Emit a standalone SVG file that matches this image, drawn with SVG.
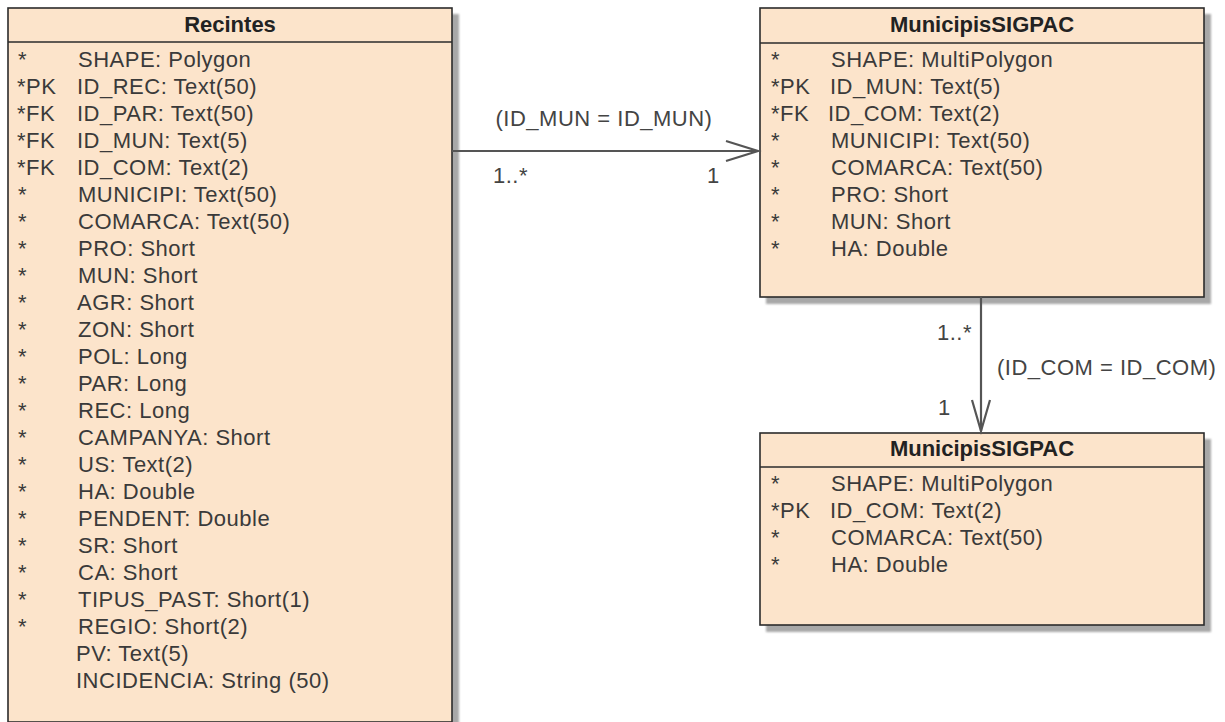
<svg xmlns="http://www.w3.org/2000/svg" width="1225" height="722" viewBox="0 0 1225 722">
<style>
.box{fill:#fce4cb;stroke:#2b2b2b;stroke-width:1.6}
.shadow{fill:#a8a8a8}
.sep{stroke:#2b2b2b;stroke-width:1.6}
.t{font-family:"Liberation Sans",Arial,sans-serif;font-size:22px;fill:#3a3a3a;letter-spacing:0.5px}
.h{font-family:"Liberation Sans",Arial,sans-serif;font-size:22px;font-weight:bold;fill:#222;text-anchor:middle}
.c{stroke:#555;stroke-width:2.2;fill:none}
.lbl{font-family:"Liberation Sans",Arial,sans-serif;font-size:22px;fill:#444;letter-spacing:0.5px}
</style>
<defs>
<filter id="blur" x="-5%" y="-5%" width="110%" height="110%"><feGaussianBlur stdDeviation="1.2"/></filter>
</defs>
<rect width="1225" height="722" fill="#ffffff"/>

<g id="recintes">
<rect class="shadow" x="14" y="14" width="445" height="714" filter="url(#blur)"/>
<rect class="box" x="8" y="8" width="444" height="714"/>
<line class="sep" x1="8" y1="42" x2="452" y2="42"/>
<text class="h" x="230" y="32">Recintes</text>
<g class="t">
<text x="18" y="67">*</text><text x="78" y="67">SHAPE: Polygon</text>
<text x="17" y="94">*PK</text><text x="77" y="94">ID_REC: Text(50)</text>
<text x="17" y="121">*FK</text><text x="77" y="121">ID_PAR: Text(50)</text>
<text x="17" y="148">*FK</text><text x="77" y="148">ID_MUN: Text(5)</text>
<text x="17" y="175">*FK</text><text x="77" y="175">ID_COM: Text(2)</text>
<text x="18" y="202">*</text><text x="78" y="202">MUNICIPI: Text(50)</text>
<text x="18" y="229">*</text><text x="78" y="229">COMARCA: Text(50)</text>
<text x="18" y="256">*</text><text x="78" y="256">PRO: Short</text>
<text x="18" y="283">*</text><text x="78" y="283">MUN: Short</text>
<text x="18" y="310">*</text><text x="77" y="310">AGR: Short</text>
<text x="18" y="337">*</text><text x="78" y="337">ZON: Short</text>
<text x="18" y="364">*</text><text x="78" y="364">POL: Long</text>
<text x="18" y="391">*</text><text x="78" y="391">PAR: Long</text>
<text x="18" y="418">*</text><text x="78" y="418">REC: Long</text>
<text x="18" y="445">*</text><text x="78" y="445">CAMPANYA: Short</text>
<text x="18" y="472">*</text><text x="78" y="472">US: Text(2)</text>
<text x="18" y="499">*</text><text x="78" y="499">HA: Double</text>
<text x="18" y="526">*</text><text x="78" y="526">PENDENT: Double</text>
<text x="18" y="553">*</text><text x="78" y="553">SR: Short</text>
<text x="18" y="580">*</text><text x="78" y="580">CA: Short</text>
<text x="18" y="607">*</text><text x="78" y="607">TIPUS_PAST: Short(1)</text>
<text x="18" y="634">*</text><text x="78" y="634">REGIO: Short(2)</text>
<text x="76" y="661">PV: Text(5)</text>
<text x="76" y="688">INCIDENCIA: String (50)</text>
</g>
</g>

<g id="municipis">
<rect class="shadow" x="766" y="14" width="445" height="290" filter="url(#blur)"/>
<rect class="box" x="760" y="8" width="444" height="289"/>
<line class="sep" x1="760" y1="43" x2="1204" y2="43"/>
<text class="h" x="982" y="32">MunicipisSIGPAC</text>
<g class="t">
<text x="771" y="67">*</text><text x="831" y="67">SHAPE: MultiPolygon</text>
<text x="771" y="94">*PK</text><text x="830" y="94">ID_MUN: Text(5)</text>
<text x="771" y="121">*FK</text><text x="828" y="121">ID_COM: Text(2)</text>
<text x="771" y="148">*</text><text x="831" y="148">MUNICIPI: Text(50)</text>
<text x="771" y="175">*</text><text x="831" y="175">COMARCA: Text(50)</text>
<text x="771" y="202">*</text><text x="831" y="202">PRO: Short</text>
<text x="771" y="229">*</text><text x="831" y="229">MUN: Short</text>
<text x="771" y="256">*</text><text x="831" y="256">HA: Double</text>
</g>
</g>

<g id="comarques">
<rect class="shadow" x="766" y="439" width="445" height="193" filter="url(#blur)"/>
<rect class="box" x="760" y="433" width="444" height="192"/>
<line class="sep" x1="760" y1="467" x2="1204" y2="467"/>
<text class="h" x="982" y="456">MunicipisSIGPAC</text>
<g class="t">
<text x="771" y="491">*</text><text x="831" y="491">SHAPE: MultiPolygon</text>
<text x="771" y="518">*PK</text><text x="830" y="518">ID_COM: Text(2)</text>
<text x="771" y="545">*</text><text x="831" y="545">COMARCA: Text(50)</text>
<text x="771" y="572">*</text><text x="831" y="572">HA: Double</text>
</g>
</g>

<g id="connectors">
<line class="c" x1="452" y1="151" x2="758" y2="151"/>
<polyline class="c" points="726,141 758,151 726,161"/>
<text class="lbl" x="604" y="126" text-anchor="middle">(ID_MUN = ID_MUN)</text>
<text class="lbl" x="493" y="183">1..*</text>
<text class="lbl" x="707" y="183">1</text>
<line class="c" x1="981" y1="297" x2="981" y2="431"/>
<polyline class="c" points="972,400 981,431 990,400"/>
<text class="lbl" x="937" y="340">1..*</text>
<text class="lbl" x="997" y="375">(ID_COM = ID_COM)</text>
<text class="lbl" x="938" y="415">1</text>
</g>
</svg>
